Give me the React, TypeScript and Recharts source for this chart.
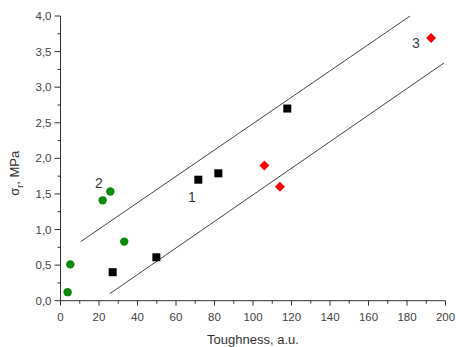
import { ScatterChart, Scatter, XAxis, YAxis, ReferenceLine } from "recharts";

// series 1 (black squares)
const series1 = [
  { x: 27.1, y: 0.4 },
  { x: 49.8, y: 0.61 },
  { x: 71.6, y: 1.7 },
  { x: 82, y: 1.79 },
  { x: 117.8, y: 2.7 },
];
// series 2 (green circles)
const series2 = [
  { x: 3.7, y: 0.12 },
  { x: 5.1, y: 0.51 },
  { x: 21.9, y: 1.41 },
  { x: 25.9, y: 1.535 },
  { x: 33.1, y: 0.83 },
];
// series 3 (red diamonds)
const series3 = [
  { x: 105.9, y: 1.9 },
  { x: 114, y: 1.6 },
  { x: 192.5, y: 3.69 },
];
// bounding lines
const upperLine = [
  { x: 10.5, y: 0.83 },
  { x: 181.6, y: 4.0 },
];
const lowerLine = [
  { x: 25.7, y: 0.1 },
  { x: 199.2, y: 3.34 },
];
const seriesLabels = [
  { x: 19.9, y: 1.66, text: "2" },
  { x: 68.2, y: 1.46, text: "1" },
  { x: 184.6, y: 3.62, text: "3" },
];

const xTicks = [0, 10, 20, 30, 40, 50, 60, 70, 80, 90, 100, 110, 120, 130, 140, 150, 160, 170, 180, 190, 200];
const yTicks = [0, 0.25, 0.5, 0.75, 1, 1.25, 1.5, 1.75, 2, 2.25, 2.5, 2.75, 3, 3.25, 3.5, 3.75, 4];

const font = "'Liberation Sans', Arial, sans-serif";

const XTick = ({ x, y, payload }: any) => {
  const major = payload.value % 20 === 0;
  return (
    <g>
      <line x1={x} x2={x} y1={y} y2={y + (major ? 5 : 3)} stroke="#333" strokeWidth={1} />
      {major && (
        <text x={x} y={y + 20} textAnchor="middle" fill="#444" fontSize={11.5} fontFamily={font}>
          {payload.value}
        </text>
      )}
    </g>
  );
};

const YTick = ({ x, y, payload }: any) => {
  const major = Math.abs((payload.value * 2) % 1) < 1e-6;
  return (
    <g>
      <line x1={x - (major ? 6 : 3)} x2={x} y1={y} y2={y} stroke="#333" strokeWidth={1} />
      {major && (
        <text x={x - 9} y={y + 4} textAnchor="end" fill="#444" fontSize={11.5} fontFamily={font}>
          {payload.value.toFixed(1).replace(".", ",")}
        </text>
      )}
    </g>
  );
};

const Square = ({ cx, cy }: any) => <rect x={cx - 4} y={cy - 4} width={8} height={8} fill="#000" />;
const Circle = ({ cx, cy }: any) => <circle cx={cx} cy={cy} r={4.2} fill="#0a8a0a" />;
const Diamond = ({ cx, cy }: any) => (
  <path d={`M${cx},${cy - 5} L${cx + 5},${cy} L${cx},${cy + 5} L${cx - 5},${cy} Z`} fill="#ff0000" />
);
const LabelText = ({ cx, cy, payload }: any) => (
  <text
    x={cx}
    y={cy + 5}
    textAnchor="middle"
    fontSize={14}
    fontFamily={font}
    style={{ fill: "#3a3a3a", stroke: "none" }}
  >
    {payload.text}
  </text>
);

const YLabel = ({ viewBox }: any) => {
  const x = 19;
  const y = viewBox.y + viewBox.height / 2 + 15;
  return (
    <text
      x={x}
      y={y}
      transform={`rotate(-90, ${x}, ${y})`}
      textAnchor="middle"
      fill="#333"
      fontSize={13}
      fontFamily={font}
    >
      σ<tspan fontSize={9} dy={4}>r</tspan>
      <tspan dy={-4}>, MPa</tspan>
    </text>
  );
};

export default function App() {
  return (
    <div style={{ position: "absolute", left: 0, top: 0, background: "#fff" }}>
      <ScatterChart width={456} height={347} margin={{ top: 16, right: 10.5, bottom: 0, left: 0 }}>
        <XAxis
          type="number"
          dataKey="x"
          domain={[0, 200]}
          ticks={xTicks}
          interval={0}
          tick={<XTick />}
          tickLine={false}
          tickSize={0}
          tickMargin={0}
          height={46.3}
          stroke="#333"
          allowDataOverflow
          label={{
            value: "Toughness, a.u.",
            position: "insideBottom",
            offset: 3,
            fill: "#333",
            fontSize: 13,
            fontFamily: font,
          }}
        />
        <YAxis
          type="number"
          dataKey="y"
          domain={[0, 4]}
          ticks={yTicks}
          interval={0}
          tick={<YTick />}
          tickLine={false}
          tickSize={0}
          tickMargin={0}
          width={60.5}
          stroke="#333"
          allowDataOverflow
          label={<YLabel />}
        />
        <ReferenceLine
          segment={[upperLine[0], upperLine[1]]}
          stroke="#444"
          strokeWidth={1}
          ifOverflow="visible"
        />
        <ReferenceLine
          segment={[lowerLine[0], lowerLine[1]]}
          stroke="#444"
          strokeWidth={1}
          ifOverflow="visible"
        />
        <Scatter data={series1} shape={<Square />} isAnimationActive={false} />
        <Scatter data={series2} shape={<Circle />} isAnimationActive={false} />
        <Scatter data={series3} shape={<Diamond />} isAnimationActive={false} />
        <Scatter data={seriesLabels} shape={<LabelText />} isAnimationActive={false} />
      </ScatterChart>
    </div>
  );
}
